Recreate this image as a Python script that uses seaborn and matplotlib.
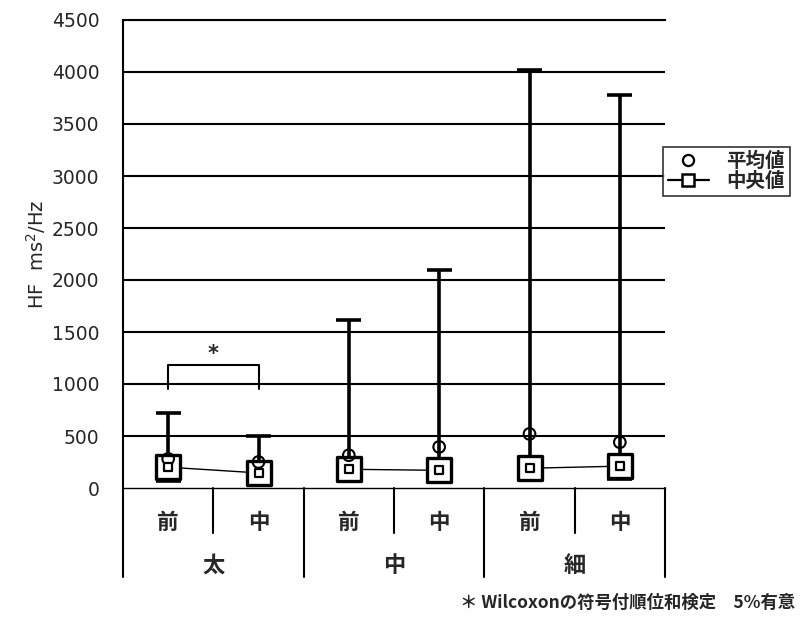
import matplotlib
matplotlib.use("Agg")
import matplotlib.pyplot as plt
import seaborn as sns
import numpy as np
import pandas as pd
from matplotlib.lines import Line2D
from matplotlib.transforms import blended_transform_factory

# ---- data ----
conditions = ["前", "中", "前", "中", "前", "中"]
groups = ["太", "中", "細"]
group_of = ["太", "太", "中", "中", "細", "細"]
max_vals = [720, 500, 1620, 2100, 4020, 3780]
min_vals = [67, 75, 75, 75, 150, 85]
median_vals = [200, 145, 180, 170, 190, 210]
mean_vals = [280, 250, 315, 395, 520, 440]
yticks = [0, 500, 1000, 1500, 2000, 2500, 3000, 3500, 4000, 4500]
ylabel = "HF  ms$^2$/Hz"
legend_labels = ["平均値", "中央値"]
footnote = "＊ Wilcoxonの符号付順位和検定　5%有意"
sig_pair = (0, 1)
sig_y = 1180
sig_drop = 230

sns.set_theme(style="white")
plt.rcParams["font.family"] = ["Noto Sans CJK JP", "DejaVu Sans"]

pos = np.arange(len(conditions))
df = pd.DataFrame({
    "pos": pos,
    "group": group_of,
    "median": median_vals,
    "mean": mean_vals,
    "min": min_vals,
    "max": max_vals,
})

fig = plt.figure(figsize=(8.0, 6.19), dpi=100)
ax = fig.add_axes([123 / 800, 1 - 488 / 619, (665 - 123) / 800, (488 - 20) / 619])

ax.set_xlim(-0.5, len(conditions) - 0.5)
ax.set_ylim(0, 4500)

# horizontal grid lines
for yv in yticks[1:]:
    ax.axhline(yv, color="black", lw=1.5, zorder=1)

# whiskers
ax.vlines(df["pos"], df["min"], df["max"], color="black", lw=2.6, zorder=2)
ax.hlines(df["max"], df["pos"] - 0.14, df["pos"] + 0.14, color="black", lw=2.6, zorder=2)
ax.hlines(df["min"], df["pos"] - 0.14, df["pos"] + 0.14, color="black", lw=2.6, zorder=2)

# median connecting lines per group
sns.lineplot(data=df, x="pos", y="median", units="group", estimator=None,
             color="black", lw=1.0, ax=ax, zorder=3, legend=False)

# big open boxes around median
sns.scatterplot(data=df, x="pos", y="median", marker="s", s=300,
                facecolor="white", edgecolor="black", linewidth=2.4,
                ax=ax, zorder=4, legend=False)
# inner median markers
sns.scatterplot(data=df, x="pos", y="median", marker="s", s=40,
                facecolor="white", edgecolor="black", linewidth=1.6,
                ax=ax, zorder=6, legend=False)
# means
sns.scatterplot(data=df, x="pos", y="mean", marker="o", s=70,
                facecolor="none", edgecolor="black", linewidth=1.5,
                ax=ax, zorder=5, legend=False)

# significance bracket
x0, x1 = sig_pair
ax.plot([x0, x0, x1, x1], [sig_y - sig_drop, sig_y, sig_y, sig_y - sig_drop],
        color="black", lw=1.5, zorder=3)
ax.text((x0 + x1) / 2, sig_y + 10, "*", ha="center", va="bottom",
        fontsize=15, fontweight="bold", family=["DejaVu Sans"])

# axes styling
ax.set_yticks(yticks)
ax.set_yticklabels([str(v) for v in yticks], fontsize=13.5, family=["DejaVu Sans"])
ax.tick_params(axis="y", length=0, pad=17)
ax.set_xticks([])
ax.set_xlabel("")
ax.set_ylabel(ylabel, fontsize=14, family=["DejaVu Sans"], labelpad=3)
ax.spines["top"].set_linewidth(1.5)
ax.spines["right"].set_visible(False)
ax.spines["left"].set_linewidth(1.5)
ax.spines["bottom"].set_linewidth(1.0)
for sp in ax.spines.values():
    sp.set_color("black")

# category table under axes
trans = blended_transform_factory(ax.transData, ax.transAxes)
row1 = -0.096
row2 = -0.190
n = len(conditions)
for xv in [-0.5, 1.5, 3.5, n - 0.5]:
    ax.plot([xv, xv], [0, row2], transform=trans, color="black", lw=1.5, clip_on=False)
for xv in [0.5, 2.5, 4.5]:
    ax.plot([xv, xv], [0, row1], transform=trans, color="black", lw=1.5, clip_on=False)
for p, c in zip(pos, conditions):
    ax.text(p, -0.073, c, transform=trans, ha="center", va="center",
            fontsize=15.5, fontweight="bold")
for gi, g in enumerate(groups):
    ax.text(2 * gi + 0.5, -0.165, g, transform=trans, ha="center", va="center",
            fontsize=16, fontweight="bold")

# legend
handles = [
    Line2D([], [], marker="o", ls="none", mfc="none", mec="black", mew=1.6, ms=8),
    Line2D([], [], marker="s", color="black", lw=1.6, mfc="white", mec="black", mew=1.8, ms=8),
]
leg = fig.legend(handles, legend_labels, loc="upper left",
                 bbox_to_anchor=(663 / 800, 1 - 147 / 619),
                 frameon=True, fancybox=False, handlelength=2.1, handletextpad=0.9,
                 borderpad=0.25, labelspacing=0.05, borderaxespad=0,
                 prop={"weight": "bold", "size": 14})
leg.get_frame().set_edgecolor("black")
leg.get_frame().set_linewidth(1.2)

fig.text(795 / 800, 1 - 603 / 619, footnote, ha="right", va="center",
         fontsize=12.5, fontweight="bold")

fig.savefig("out.png", dpi=100)
